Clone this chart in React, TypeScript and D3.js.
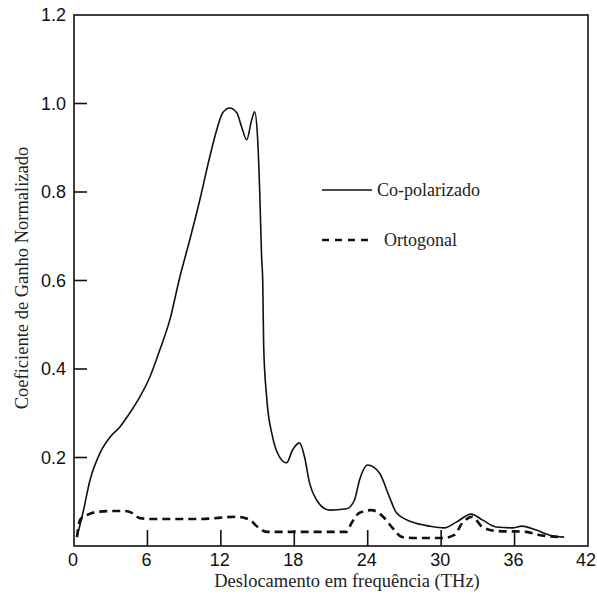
import React from "react";
import * as d3 from "d3";

const coFreq = [0.24, 0.73, 1.31, 2.12, 2.94, 3.75, 4.57, 5.38, 6.2, 7.01, 7.83, 8.65, 9.46, 10.28, 11.09, 11.66, 12.15, 12.72, 13.3, 13.7, 14.11, 14.52, 14.76, 15.01, 15.17, 15.33, 15.42, 15.5, 15.74, 16.23, 16.8, 17.37, 17.86, 18.43, 18.84, 19.25, 19.82, 20.88, 22.27, 22.92, 23.33, 23.98, 24.96, 25.77, 26.35, 27.65, 29.04, 30.26, 31.24, 32.46, 33.36, 34.5, 35.81, 36.62, 37.77, 38.83, 40.05];
const coGain = [0.02, 0.075, 0.149, 0.21, 0.246, 0.269, 0.301, 0.337, 0.382, 0.443, 0.511, 0.608, 0.692, 0.782, 0.879, 0.94, 0.979, 0.99, 0.979, 0.947, 0.918, 0.963, 0.981, 0.918, 0.805, 0.653, 0.601, 0.45, 0.337, 0.246, 0.201, 0.188, 0.217, 0.233, 0.201, 0.142, 0.104, 0.081, 0.084, 0.104, 0.149, 0.183, 0.165, 0.111, 0.075, 0.054, 0.045, 0.041, 0.054, 0.072, 0.059, 0.043, 0.041, 0.045, 0.036, 0.025, 0.02];

const orFreq = [0.24, 0.49, 1.06, 1.88, 2.94, 4.16, 4.73, 5.38, 6.44, 10.28, 13.3, 14.36, 15.01, 15.74, 18.43, 22.27, 22.68, 23.33, 24.31, 25.2, 26.02, 26.84, 28.22, 30.1, 31.08, 31.73, 32.54, 33.36, 34.5, 36.95, 38.01, 39.89];
const orGain = [0.02, 0.059, 0.07, 0.077, 0.079, 0.079, 0.075, 0.063, 0.061, 0.061, 0.066, 0.059, 0.043, 0.032, 0.032, 0.032, 0.052, 0.075, 0.081, 0.068, 0.041, 0.02, 0.018, 0.018, 0.025, 0.052, 0.066, 0.043, 0.034, 0.032, 0.025, 0.02];

const xTicks = [0, 6, 12, 18, 24, 30, 36, 42];
const yTicks = [0.2, 0.4, 0.6, 0.8, 1.0, 1.2];

const xLabel = "Deslocamento em frequência (THz)";
const yLabel = "Coeficiente de Ganho Normalizado";
const legendLabels = ["Co-polarizado", "Ortogonal"];

export default function App() {
  const W = 597, H = 594;
  const x = d3.scaleLinear().domain([0, 42]).range([74, 588]);
  const y = d3.scaleLinear().domain([0, 1.2]).range([546, 15]);
  const line = d3
    .line<[number, number]>()
    .x((d) => x(d[0]))
    .y((d) => y(d[1]))
    .curve(d3.curveMonotoneX);
  const coPts = coFreq.map((f, i) => [f, coGain[i]] as [number, number]);
  const orPts = orFreq.map((f, i) => [f, orGain[i]] as [number, number]);
  const sans = "'Liberation Sans', Arial, sans-serif";
  const serif = "'Liberation Serif', 'Times New Roman', serif";
  const x0 = x(0), x1 = x(42), y0 = y(0), y1 = y(1.2);
  return (
    <svg width={W} height={H} style={{ position: "absolute", left: 0, top: 0, background: "#fff" }}>
      <rect x={0} y={0} width={W} height={H} fill="#fff" />
      <rect x={x0} y={y1} width={x1 - x0} height={y0 - y1} fill="none" stroke="#111" strokeWidth={1.6} />
      {yTicks.map((t) => (
        <g key={"y" + t}>
          {t < 1.2 && <line x1={x0} x2={x0 + 13} y1={y(t)} y2={y(t)} stroke="#111" strokeWidth={1.6} />}
          <text x={66} y={y(t)} dy="0.35em" textAnchor="end" fontFamily={sans} fontSize={18} fill="#111">
            {t.toFixed(1)}
          </text>
        </g>
      ))}
      {xTicks.map((t) => (
        <g key={"x" + t}>
          {t > 0 && t < 42 && <line x1={x(t)} x2={x(t)} y1={y0} y2={y0 - 16} stroke="#111" strokeWidth={1.6} />}
          <text x={t === 42 ? x(t) - 2 : x(t) - 1} y={566} textAnchor="middle" fontFamily={sans} fontSize={18} fill="#111">
            {t}
          </text>
        </g>
      ))}
      <text x={347} y={587} textAnchor="middle" fontFamily={serif} fontSize={18.5} fill="#222">
        {xLabel}
      </text>
      <text transform={`translate(28,278) rotate(-90)`} textAnchor="middle" fontFamily={serif} fontSize={18.5} fill="#222">
        {yLabel}
      </text>
      <path d={line(coPts) || ""} fill="none" stroke="#111" strokeWidth={1.6} />
      <path d={line(orPts) || ""} fill="none" stroke="#111" strokeWidth={2.6} strokeDasharray="8 5" />
      <line x1={322} x2={372} y1={190} y2={190} stroke="#111" strokeWidth={1.3} />
      <text x={377} y={190} dy="0.35em" fontFamily={serif} fontSize={18} fill="#222">
        {legendLabels[0]}
      </text>
      <line x1={322} x2={370} y1={240} y2={240} stroke="#111" strokeWidth={2.6} strokeDasharray="7 6" />
      <text x={384} y={240} dy="0.35em" fontFamily={serif} fontSize={18} fill="#222">
        {legendLabels[1]}
      </text>
    </svg>
  );
}
